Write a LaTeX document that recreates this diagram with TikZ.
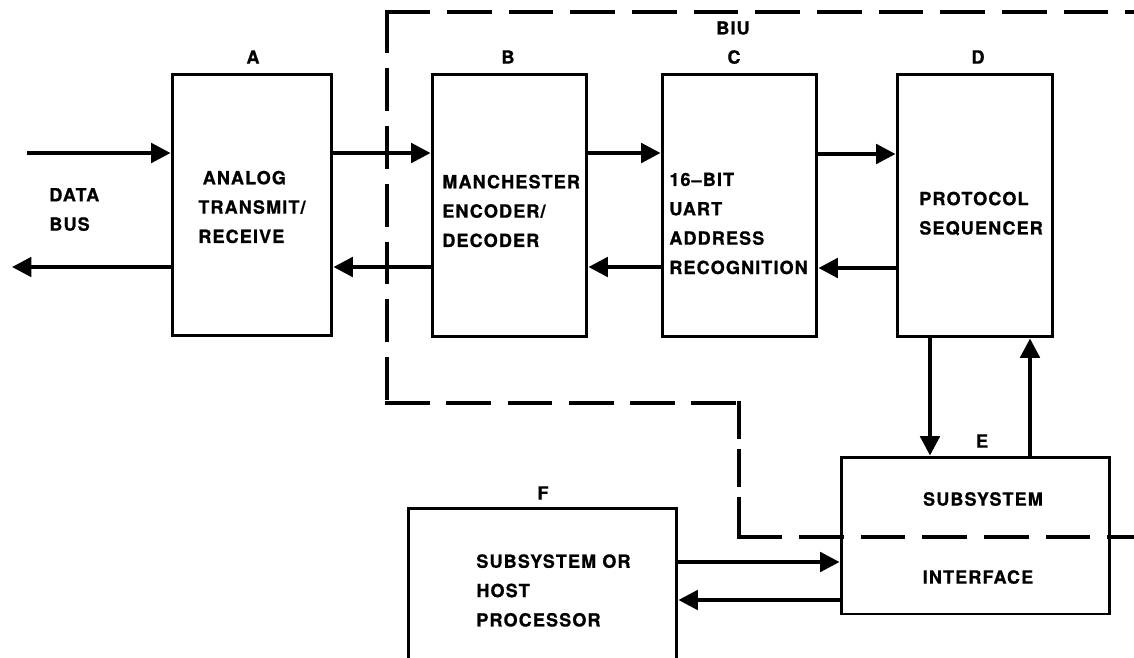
\documentclass[tikz,border=0pt]{standalone}
\usepackage{fontspec}
\newfontfamily\lbl{TeX Gyre Heros Bold}[LetterSpace=6, FakeBold=0.8]
\usetikzlibrary{arrows.meta}

\begin{document}
\begin{tikzpicture}[x=0.02cm, y=-0.02cm,
  box/.style={draw, line width=1.7pt, inner sep=0pt},
  flow/.style={line width=2.2pt, -{Triangle[length=11pt,width=11pt]}},
  biu/.style={line width=1.9pt, line cap=rect},
  txt/.style={font=\lbl\fontsize{10.3}{16.7}\selectfont, inner sep=0pt, align=left},
  tag/.style={font=\lbl\fontsize{10.3}{16.7}\selectfont, inner sep=0pt}]

\clip (0,0) rectangle (1134,657);

% functional blocks
\node[box, minimum width=3.2cm,  minimum height=5.24cm] (A) at (252,205) {};
\node[box, minimum width=3.1cm,  minimum height=5.26cm] (B) at (509.5,205.5) {};
\node[box, minimum width=3.1cm,  minimum height=5.26cm] (C) at (739.5,205.5) {};
\node[box, minimum width=3.12cm, minimum height=5.26cm] (D) at (975,205.5) {};
\node[box, minimum width=5.38cm, minimum height=3.14cm] (E) at (975.5,535.5) {};
\node[box, minimum width=5.38cm, minimum height=3.02cm] (F) at (542.5,583.5) {};

% block letters
\node[tag] (Alab) at (253,57) {A};
\node[tag] (Blab) at (508,57) {B};
\node[tag] (Clab) at (734,57) {C};
\node[tag] (Dlab) at (978,57) {D};
\node[tag] (Elab) at (982,441) {E};
\node[tag] (Flab) at (543,493) {F};
\node[tag] (BIUlab) at (733,28) {BIU};

% block texts
\node[txt, anchor=west] (Atxt) at (198,207) {\hspace*{2.5pt}ANALOG\\TRANSMIT/\\RECEIVE};
\node[txt, anchor=west] (Btxt) at (442,211) {MANCHESTER\\ENCODER/\\DECODER};
\node[txt, anchor=west] (Ctxt) at (669,223.5) {16–BIT\\UART\\ADDRESS\\RECOGNITION};
\node[txt, anchor=west] (Dtxt) at (919,213.5) {PROTOCOL\\SEQUENCER};
\node[tag] (Etop) at (983,499) {SUBSYSTEM};
\node[tag] (Ebot) at (978,577) {INTERFACE};
\node[txt, anchor=west] (Ftxt) at (476,590.5) {SUBSYSTEM OR\\HOST\\PROCESSOR};
\node[txt, anchor=west] (bus) at (49,209.5) {DATA\\BUS};

% bus interface unit boundary: each run starts and ends on a dash
\draw[biu, dash pattern=on 23.6pt off 11.5pt] (387,12) -- (1150,12);
\draw[biu, dash pattern=on 22.5pt off 10.4pt] (387,12) -- (387,403);
\draw[biu, dash pattern=on 23.6pt off 11.2pt] (387,403) -- (739,403);
\draw[biu, dash pattern=on 19.6pt off 7.6pt]  (739,403) -- (739,537);
\draw[biu, dash pattern=on 23.6pt off 11.5pt] (739,537) -- (1150,537);

% data bus ends
\coordinate (busin) at (27,153);
\coordinate (busout) at (12,267);

% forward path
\draw[flow] (busin) -- (busin -| A.west);
\draw[flow] (A.east |- 0,153) -- (B.west |- 0,153);
\draw[flow] (B.east |- 0,153) -- (C.west |- 0,153);
\draw[flow] (C.east |- 0,154) -- (D.west |- 0,154);

% return path
\draw[flow] (D.west |- 0,268) -- (C.east |- 0,268);
\draw[flow] (C.west |- 0,267) -- (B.east |- 0,267);
\draw[flow] (B.west |- 0,267) -- (A.east |- 0,267);
\draw[flow] (A.west |- 0,267) -- (busout);

% sequencer <-> subsystem interface
\draw[flow] (D.south -| 930,0) -- (E.north -| 930,0);
\draw[flow] (E.north -| 1030,0) -- (D.south -| 1030,0);

% host <-> subsystem interface
\draw[flow] (F.east |- 0,562) -- (E.west |- 0,562);
\draw[flow] (E.west |- 0,600) -- (F.east |- 0,600);
\end{tikzpicture}
\end{document}
